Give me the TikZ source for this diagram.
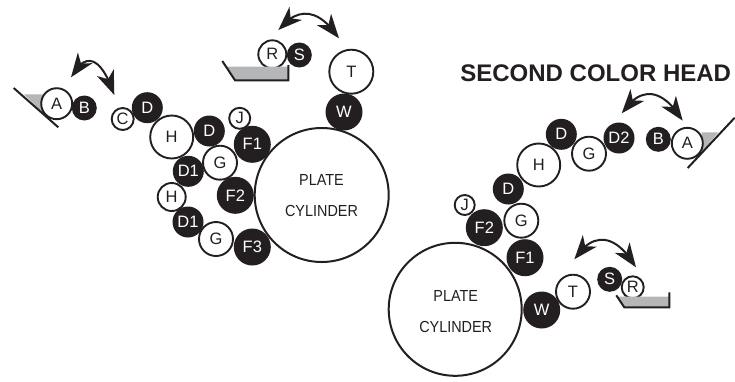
\documentclass[tikz,border=0pt]{standalone}
\usepackage{fontspec}
\usepackage{graphicx}
\setmainfont{Liberation Sans}
\usetikzlibrary{arrows.meta,bending}
\definecolor{ink}{HTML}{231F20}
\definecolor{inkgrey}{HTML}{B5B6B8}
\tikzset{
  wroll/.style={circle,draw=ink,line width=1.9pt,fill=white,text=ink,inner sep=0pt,minimum size=#1pt,font=\fontsize{16.5}{17}\selectfont},
  broll/.style={circle,fill=ink,text=white,inner sep=0pt,minimum size=#1pt,font=\fontsize{16.5}{17}\selectfont},
  plate/.style={circle,draw=ink,line width=2pt,fill=white,inner sep=0pt,minimum size=#1pt},
  platetext/.style={text=ink,inner sep=0pt,font=\fontsize{16}{17}\selectfont},
  blade/.style={draw=ink,line width=2pt},
  ink fill/.style={fill=inkgrey,draw=none},
  swing/.style={draw=ink,line width=2pt,{Stealth[length=24pt,width=18pt,inset=7pt,flex]}-{Stealth[length=24pt,width=18pt,inset=7pt,flex]}}
}
\newcommand{\narrowtext}[1]{\scalebox{.9}[1]{#1}}
\begin{document}
\begin{tikzpicture}[x=1pt,y=-1pt]
\useasboundingbox (0,0) rectangle (735,381);
% ---------- first head ----------
\node[plate=134] (plate1) at (321.7,195) {};
\node[platetext] (plate1a) at (321.5,179.5) {\narrowtext{PLATE}};
\node[platetext] (plate1b) at (321.5,210.5) {\narrowtext{CYLINDER}};
% ink fountain A
\fill[ink fill] (24,94.3) -- (44,94.3) -- (44,114) -- cycle;
\draw[blade] (13.7,88) -- (58.3,127.3);
\node[wroll=31] (a1) at (56.7,103.7) {A};
\node[broll=25] (b1) at (84.3,108) {B};
\node[wroll=22] (c1) at (122.7,119) {C};
\node[broll=31] (d1a) at (147.3,107.7) {D};
\node[wroll=43] (h1a) at (171.7,137) {H};
\node[broll=31] (d1b) at (209.3,131) {D};
\node[wroll=21] (j1) at (239.7,118.3) {J};
\node[broll=37] (f1a) at (252.3,144.3) {F1};
\node[wroll=34] (g1a) at (220,162.7) {G};
\node[broll=31] (d1c) at (188.3,171.3) {D1};
\node[broll=37] (f1b) at (235.3,195.3) {F2};
\node[wroll=28] (h1b) at (171.7,197) {H};
\node[broll=31] (d1d) at (188,222) {D1};
\node[wroll=34] (g1b) at (216,239) {G};
\node[broll=37] (f1c) at (252.3,247) {F3};
% water fountain
\node[wroll=28] (r1) at (272.3,54.3) {R};
\node[broll=25] (s1) at (299.3,55) {S};
\fill[ink fill] (225.7,66.7) -- (288.3,66.7) -- (288.3,80.3) -- (235,80.3) -- cycle;
\draw[blade] (222.3,61) -- (235,80.3) -- (288.3,80.3) -- (288.3,65);
\node[wroll=44] (t1) at (351.3,71.7) {T};
\node[broll=37] (w1) at (344,112) {W};
\coordinate (s1l) at (71,77.3);
\coordinate (s1r) at (114.3,95);
\draw[swing] (s1l) .. controls (84,53) and (100,53) .. (s1r);
\coordinate (s2l) at (278.3,30);
\coordinate (s2r) at (339,38.3);
\draw[swing] (s2l) .. controls (297,7) and (318,7) .. (s2r);
% ---------- second head ----------
\node[text=ink,inner sep=0pt,font=\bfseries\fontsize{24}{26}\selectfont] (title) at (595.7,72.8) {SECOND COLOR HEAD};
\node[plate=133] (plate2) at (455.2,309.3) {};
\node[platetext] (plate2a) at (455.7,295.5) {\narrowtext{PLATE}};
\node[platetext] (plate2b) at (455.7,326.5) {\narrowtext{CYLINDER}};
\fill[ink fill] (701.7,132.3) -- (718.3,132.3) -- (702,152) -- cycle;
\draw[blade] (687.7,168) -- (734.7,117.7);
\node[wroll=31] (a2) at (687.3,143.3) {A};
\node[broll=25] (b2) at (658.3,139.3) {B};
\node[broll=31] (d2c) at (619,138) {D2};
\node[wroll=34] (g2a) at (589,153.7) {G};
\node[broll=31] (d2a) at (561.3,134.3) {D};
\node[wroll=43] (h2) at (538.7,165) {H};
\node[broll=31] (d2b) at (508.3,189) {D};
\node[wroll=34] (g2b) at (521.3,220.7) {G};
\node[wroll=20] (j2) at (464.7,205) {J};
\node[broll=37] (f2b) at (484.3,227.7) {F2};
\node[broll=37] (f2a) at (525,257.7) {F1};
\node[broll=37] (w2) at (541.7,310) {W};
\node[wroll=34] (t2) at (573,291.7) {T};
\node[wroll=22] (r2) at (632.7,287.3) {R};
\node[broll=25] (s2) at (609.7,279.3) {S};
\fill[ink fill] (618,296.7) -- (669.3,296.7) -- (669.3,307.3) -- (624.3,307.3) -- cycle;
\draw[blade] (616.3,295.3) -- (624.3,307.3) -- (669.3,307.3) -- (669.3,292.3);
\coordinate (s3l) at (621.7,113.3);
\coordinate (s3r) at (682.7,120.7);
\draw[swing] (s3l) .. controls (640,86) and (662,87) .. (s3r);
\coordinate (s4l) at (574.3,259.3);
\coordinate (s4r) at (636,267.3);
\draw[swing] (s4l) .. controls (592,232) and (615,232) .. (s4r);
\end{tikzpicture}
\end{document}
